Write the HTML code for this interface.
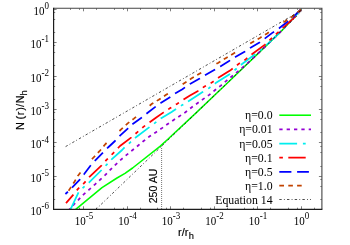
<!DOCTYPE html>
<html><head><meta charset="utf-8"><title>plot</title>
<style>html,body{margin:0;padding:0;background:#fff}svg{display:block}</style></head>
<body>
<svg width="350" height="245" viewBox="0 0 350 245">
<rect width="350" height="245" fill="#fff"/>
<path d="M53.6,199.50h1.6 M321.9,199.50h-1.6 M53.6,186.50h1.6 M321.9,186.50h-1.6 M53.6,179.50h1.6 M321.9,179.50h-1.6 M53.6,176.50h3.0 M321.9,176.50h-3.0 M53.6,166.50h1.6 M321.9,166.50h-1.6 M53.6,152.50h1.6 M321.9,152.50h-1.6 M53.6,146.50h1.6 M321.9,146.50h-1.6 M53.6,142.50h3.0 M321.9,142.50h-3.0 M53.6,132.50h1.6 M321.9,132.50h-1.6 M53.6,119.50h1.6 M321.9,119.50h-1.6 M53.6,112.50h1.6 M321.9,112.50h-1.6 M53.6,109.50h3.0 M321.9,109.50h-3.0 M53.6,99.50h1.6 M321.9,99.50h-1.6 M53.6,86.50h1.6 M321.9,86.50h-1.6 M53.6,79.50h1.6 M321.9,79.50h-1.6 M53.6,76.50h3.0 M321.9,76.50h-3.0 M53.6,65.50h1.6 M321.9,65.50h-1.6 M53.6,52.50h1.6 M321.9,52.50h-1.6 M53.6,45.50h1.6 M321.9,45.50h-1.6 M53.6,42.50h3.0 M321.9,42.50h-3.0 M53.6,32.50h1.6 M321.9,32.50h-1.6 M53.6,19.50h1.6 M321.9,19.50h-1.6 M53.6,12.50h1.6 M321.9,12.50h-1.6 M53.6,9.50h3.0 M321.9,9.50h-3.0 M70.50,209.3v-1.6 M70.50,8.3v1.6 M79.50,209.3v-1.6 M79.50,8.3v1.6 M83.50,209.3v-3.0 M83.50,8.3v3.0 M96.50,209.3v-1.6 M96.50,8.3v1.6 M114.50,209.3v-1.6 M114.50,8.3v1.6 M123.50,209.3v-1.6 M123.50,8.3v1.6 M127.50,209.3v-3.0 M127.50,8.3v3.0 M140.50,209.3v-1.6 M140.50,8.3v1.6 M157.50,209.3v-1.6 M157.50,8.3v1.6 M166.50,209.3v-1.6 M166.50,8.3v1.6 M170.50,209.3v-3.0 M170.50,8.3v3.0 M183.50,209.3v-1.6 M183.50,8.3v1.6 M201.50,209.3v-1.6 M201.50,8.3v1.6 M210.50,209.3v-1.6 M210.50,8.3v1.6 M214.50,209.3v-3.0 M214.50,8.3v3.0 M227.50,209.3v-1.6 M227.50,8.3v1.6 M244.50,209.3v-1.6 M244.50,8.3v1.6 M253.50,209.3v-1.6 M253.50,8.3v1.6 M257.50,209.3v-3.0 M257.50,8.3v3.0 M270.50,209.3v-1.6 M270.50,8.3v1.6 M288.50,209.3v-1.6 M288.50,8.3v1.6 M297.50,209.3v-1.6 M297.50,8.3v1.6 M301.50,209.3v-3.0 M301.50,8.3v3.0 M314.50,209.3v-1.6 M314.50,8.3v1.6" stroke="#000" stroke-opacity="0.5" stroke-width="1" fill="none"/>
<clipPath id="pc"><rect x="53.6" y="8.3" width="268.29999999999995" height="201.0"/></clipPath>
<g fill="none" stroke-linejoin="round" clip-path="url(#pc)">
<polyline points="75.7,209.4 102.0,187.7 117.0,178.0 125.0,173.4 132.6,168.0 160.0,146.3 167.0,140.0 195.0,113.9 226.6,83.8 265.0,46.9 282.0,30.4 301.4,9.0" stroke="#00ff00" stroke-width="1.55"/>
<polyline points="69.4,209.4 74.0,204.3 78.6,199.7 83.7,194.3 89.4,189.4 95.1,184.3 100.5,179.3 105.6,174.6 110.7,169.4 115.9,164.3 121.3,159.4 126.6,154.9 132.3,150.3 138.2,145.5 143.6,141.0 149.7,136.3 155.6,132.4 161.3,128.6 167.3,124.3 173.3,120.2 179.4,116.2 185.4,112.2 191.5,107.5 197.4,103.2 203.5,98.9 209.2,94.9 215.1,90.0 220.8,85.6 226.3,80.9 236.0,73.0 246.0,64.6 265.0,46.9 282.0,30.4 301.4,9.0" stroke="#9400d3" stroke-width="1.75" stroke-dasharray="3.3 3.967" stroke-dashoffset="2.07"/>
<polyline points="70.5,209.3 78.6,192.3 83.7,187.1 88.9,182.6 101.6,170.0 106.7,164.6 111.9,159.1 122.1,150.0 124.6,147.4 130.3,142.3 136.0,137.2 149.1,127.4 155.4,122.6 161.6,117.9 171.6,112.0 176.1,108.9 182.2,105.1 188.1,101.4 195.0,97.0 202.6,92.0 209.3,87.9 215.7,83.1 230.0,74.0 242.1,64.0 262.7,48.5 282.0,30.4 301.4,9.0" stroke="#00eeee" stroke-width="1.75" stroke-dasharray="18.1 5.8 2.8 5.5" stroke-dashoffset="31.6"/>
<polyline points="66.0,203.1 73.4,194.6 78.0,188.9 84.3,182.9 89.2,177.2 101.6,165.4 106.7,159.7 113.0,153.4 120.0,146.0 131.4,137.4 137.1,132.3 143.7,126.6 149.7,122.3 156.6,117.2 163.6,112.4 169.9,108.3 177.3,103.7 183.6,99.5 190.0,95.4 198.0,90.9 204.5,86.5 211.7,82.6 218.3,77.8 230.0,70.6 239.3,63.4 245.6,59.4 251.9,54.3 265.0,44.6 276.3,34.0 294.0,17.8 301.4,9.0" stroke="#ff0000" stroke-width="1.75" stroke-dasharray="17.4 5.4 3.6 5.4 3.6 5.48" stroke-dashoffset="6.1"/>
<polyline points="65.4,194.0 68.3,191.4 71.8,187.8 80.0,179.3 84.0,174.3 90.8,165.3 95.3,160.3 102.7,152.9 108.0,147.5 115.0,141.0 120.0,135.7 128.0,128.3 133.1,123.7 141.1,118.0 148.0,112.5 155.0,107.1 160.7,103.1 170.4,96.9 175.0,93.6 182.4,89.2 190.0,83.9 199.7,78.6 205.4,75.1 214.6,69.8 220.3,66.4 228.3,61.5 235.3,57.1 245.0,51.4 250.1,48.0 259.9,42.3 272.3,32.9 279.1,28.3 289.4,20.3 294.6,15.6 298.6,11.7 301.4,9.0" stroke="#0000ff" stroke-width="1.75" stroke-dasharray="11.7 5.83" stroke-dashoffset="8.3"/>
<polyline points="68.0,191.8 70.0,188.6 74.6,181.5 78.0,175.7 84.0,167.8 93.5,157.5 99.5,151.2 105.5,144.0 121.4,129.2 127.7,123.4 133.9,118.6 152.0,103.8 158.7,99.7 166.1,94.8 191.7,78.3 199.4,73.7 218.0,62.9 226.1,57.9 233.6,53.4 251.9,42.5 259.9,37.9 267.1,33.4 284.9,21.4 292.3,16.5 299.7,10.6 301.4,9.0" stroke="#c24300" stroke-width="1.75" stroke-dasharray="4.6 4.02 4.6 4.02 4.6 17.58" stroke-dashoffset="38.23"/>
<polyline points="65.6,146.6 301.2,10.5" stroke="#000" stroke-width="0.7" stroke-dasharray="2.4 2.2 0.9 2.2"/>
<polyline points="95.6,209.7 301.2,11.9" stroke="#000" stroke-width="0.7" stroke-dasharray="2.4 2.2 0.9 2.2"/>
<path d="M161.6,209V146.5" stroke="#000" stroke-width="0.6" stroke-dasharray="0.9 1.1"/>
</g>
<path d="M53.6,8.3H321.9V209.3" fill="none" stroke="#444" stroke-width="1.1"/>
<path d="M53.6,7.800000000000001V209.3H322.4" fill="none" stroke="#1c1c1c" stroke-width="1.2"/>
<g font-family="'Liberation Serif', serif" font-size="11.8" text-anchor="end" fill="#000">
<text x="272.6" y="119.2">η=0.0</text>
<text x="272.6" y="133.4">η=0.01</text>
<text x="272.6" y="147.5">η=0.05</text>
<text x="272.6" y="161.7">η=0.1</text>
<text x="272.6" y="175.8">η=0.5</text>
<text x="272.6" y="189.5">η=1.0</text>
<text x="272.6" y="203.5">Equation 14</text>
</g>
<g fill="none">
<path d="M279.3,115.2H311" stroke="#00ff00" stroke-width="1.55"/>
<path d="M279.3,129.4H311" stroke="#9400d3" stroke-width="1.75" stroke-dasharray="3.3 4.05"/>
<path d="M279.3,143.5H297.1M302.9,143.5H305.7" stroke="#00eeee" stroke-width="1.75"/>
<path d="M279.3,157.7H282.9M288.3,157.7H305.7" stroke="#ff0000" stroke-width="1.75"/>
<path d="M279.3,171.8H291.4M297.1,171.8H308.9" stroke="#0000ff" stroke-width="1.75"/>
<path d="M279.3,185.5H284M288.3,185.5H292.9M297.1,185.5H301.7" stroke="#c24300" stroke-width="1.75"/>
<path d="M279.3,199.5H311" stroke="#000" stroke-width="0.7" stroke-dasharray="2.4 2.2 0.9 2.2"/>
</g>
<g font-family="'Liberation Serif', serif" font-size="11" fill="#000">
<text transform="translate(48.9,215.2) scale(1,1.13)" text-anchor="end">10<tspan font-size="9" dy="-5.2">-6</tspan></text>
<text transform="translate(48.9,181.8) scale(1,1.13)" text-anchor="end">10<tspan font-size="9" dy="-5.2">-5</tspan></text>
<text transform="translate(48.9,148.4) scale(1,1.13)" text-anchor="end">10<tspan font-size="9" dy="-5.2">-4</tspan></text>
<text transform="translate(48.9,115.0) scale(1,1.13)" text-anchor="end">10<tspan font-size="9" dy="-5.2">-3</tspan></text>
<text transform="translate(48.9,81.6) scale(1,1.13)" text-anchor="end">10<tspan font-size="9" dy="-5.2">-2</tspan></text>
<text transform="translate(48.9,48.2) scale(1,1.13)" text-anchor="end">10<tspan font-size="9" dy="-5.2">-1</tspan></text>
<text transform="translate(48.9,14.8) scale(1,1.13)" text-anchor="end">10<tspan font-size="9" dy="-5.2">0</tspan></text>
<text transform="translate(83.9,225.1) scale(1,1.13)" text-anchor="middle">10<tspan font-size="9" dy="-5.2">-5</tspan></text>
<text transform="translate(127.4,225.1) scale(1,1.13)" text-anchor="middle">10<tspan font-size="9" dy="-5.2">-4</tspan></text>
<text transform="translate(170.9,225.1) scale(1,1.13)" text-anchor="middle">10<tspan font-size="9" dy="-5.2">-3</tspan></text>
<text transform="translate(214.4,225.1) scale(1,1.13)" text-anchor="middle">10<tspan font-size="9" dy="-5.2">-2</tspan></text>
<text transform="translate(257.9,225.1) scale(1,1.13)" text-anchor="middle">10<tspan font-size="9" dy="-5.2">-1</tspan></text>
<text transform="translate(301.4,225.1) scale(1,1.13)" text-anchor="middle">10<tspan font-size="9" dy="-5.2">0</tspan></text>
</g>
<g font-family="'Liberation Sans', sans-serif" font-size="11" fill="#000" stroke="#000" stroke-width="0.15">
<text x="178" y="236">r/r<tspan font-size="9.3" dy="3.4" dx="0.4">h</tspan></text>
<text transform="translate(23.7,130.0) rotate(-90)" dx="0 0 -0.4 0.4 0.8 0.2 0.7">N (r)/N<tspan font-size="9.3" dy="3.1" dx="-0.2">h</tspan></text>
<text transform="translate(156.5,203.3) rotate(-90)" font-size="10.6">250 AU</text>
</g>
</svg>
</body></html>
